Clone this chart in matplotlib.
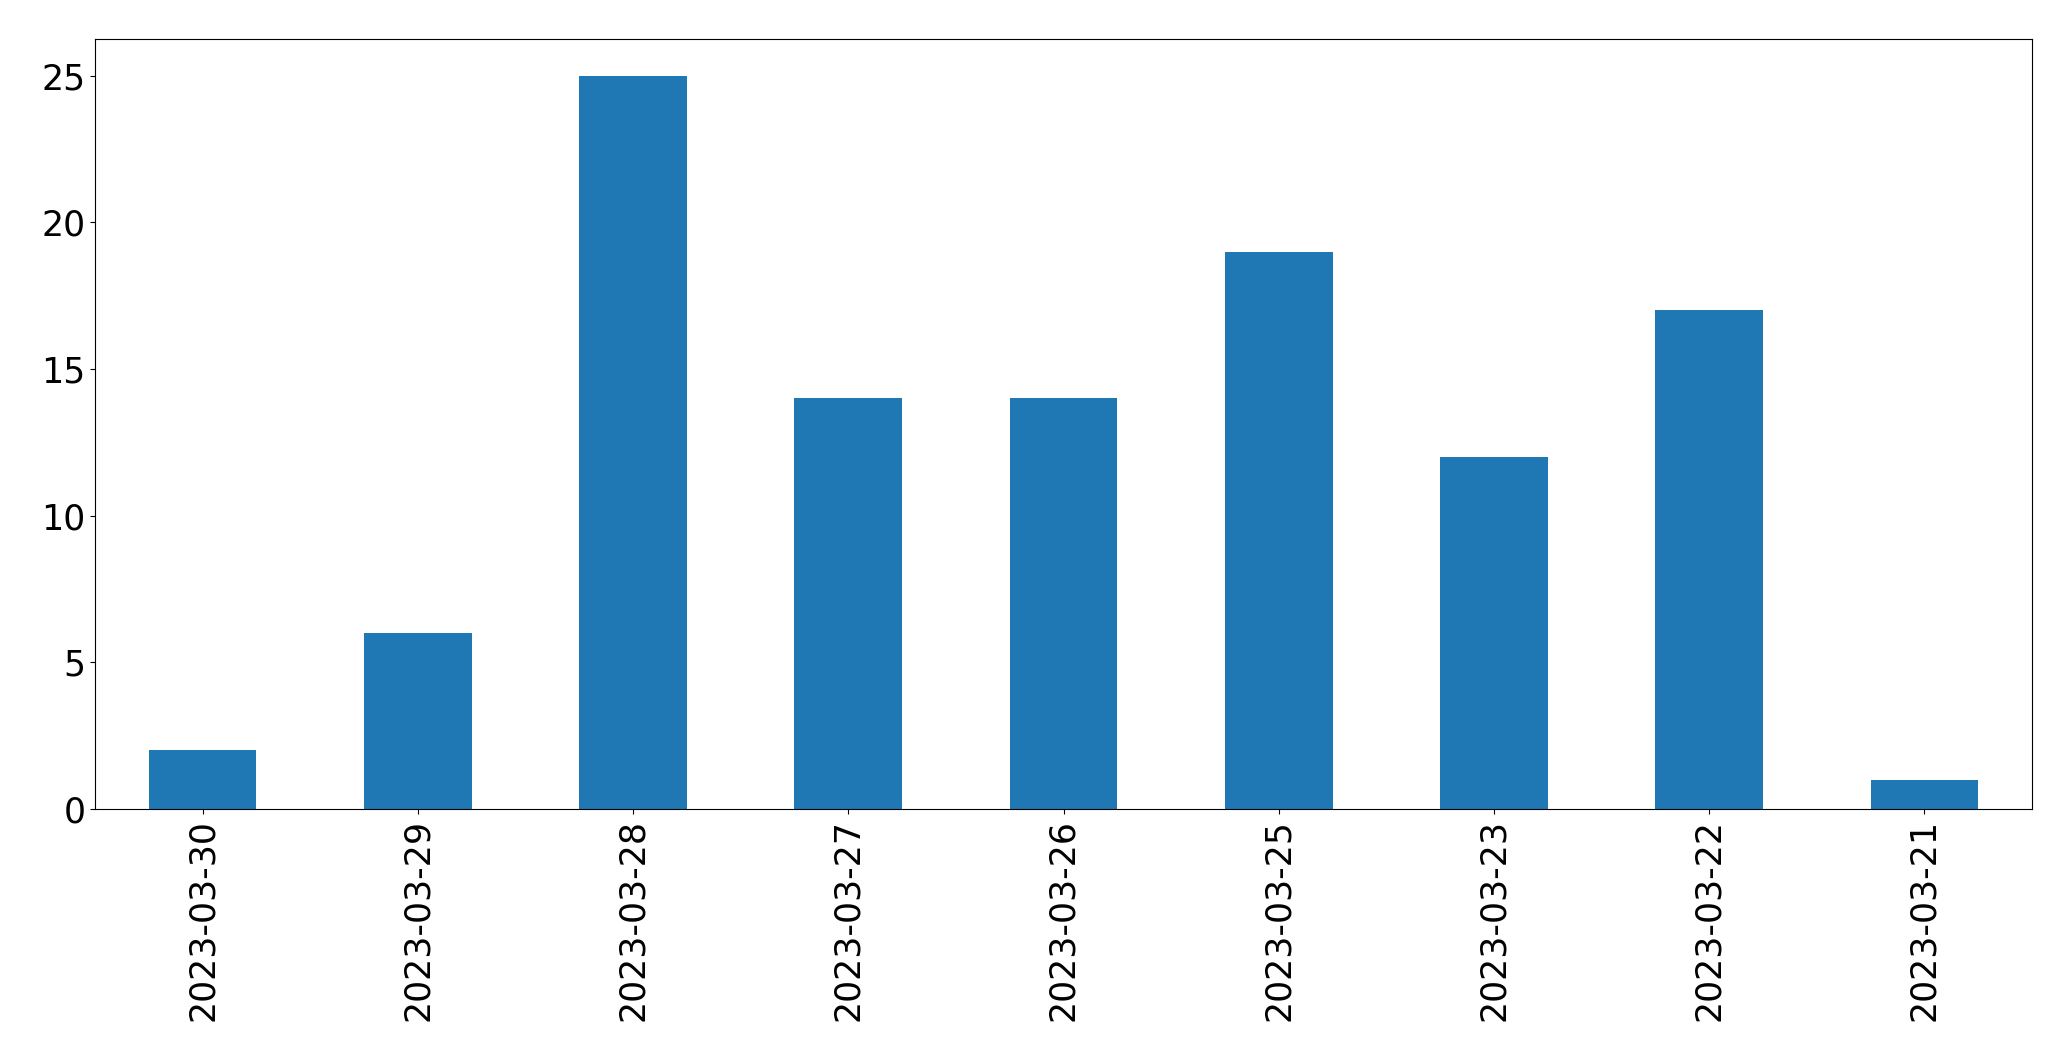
import matplotlib
matplotlib.use("Agg")
import matplotlib.pyplot as plt
import numpy as np

# counts per day, newest first
dates = ["2023-03-30", "2023-03-29", "2023-03-28", "2023-03-27", "2023-03-26",
         "2023-03-25", "2023-03-23", "2023-03-22", "2023-03-21"]
counts = [2, 6, 25, 14, 14, 19, 12, 17, 1]

fig = plt.figure(figsize=(20.71, 10.61), dpi=100)
ax = fig.add_axes([95 / 2071, 1 - 809 / 1061, (2032 - 95) / 2071, (809 - 39) / 1061])

x = np.arange(len(dates))
ax.bar(x, counts, width=0.5, color="#1f77b4")
ax.set_xlim(-0.5, len(dates) - 0.5)
ax.set_ylim(0, max(counts) * 1.05)
ax.set_xticks(x)
ax.set_xticklabels(dates, rotation=90)
ax.set_yticks([0, 5, 10, 15, 20, 25])
ax.tick_params(labelsize=25)

fig.savefig("out.png", dpi=100)
